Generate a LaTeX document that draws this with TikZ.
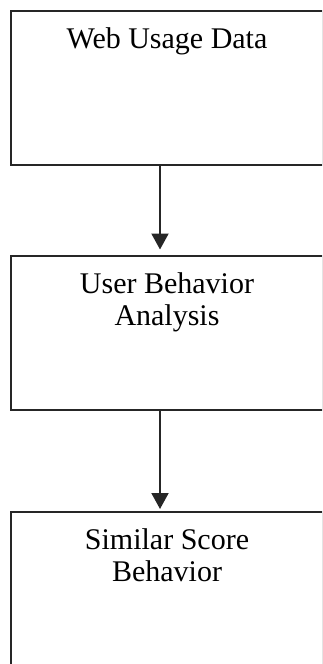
\documentclass[tikz,border=0pt]{standalone}
\usepackage{fontspec}
\setmainfont{Liberation Serif}
\usetikzlibrary{arrows.meta}
\begin{document}
\begin{tikzpicture}[x=1pt,y=-1pt,
  stage/.style={draw=black!85, line width=2pt, minimum width=312pt,
    minimum height=154pt, inner sep=0pt, outer sep=0pt},
  stagetext/.style={anchor=base, align=center, inner sep=0pt,
    font=\fontsize{30}{32}\selectfont},
  flow/.style={draw=black!85, line width=2pt,
    -{Triangle[width=17pt,length=16pt]}}]
\useasboundingbox (0,0) rectangle (322,664);
\clip (0,0) rectangle (322,664);

% three stages, stacked top to bottom
\node[stage] (s1) at (167,88) {};
\node[stage] (s2) at (167,332.5) {};
\node[stage] (s3) at (167,589) {};

% stage titles (base anchor sits on the last line)
\node[stagetext] (t1) at (167,48) {Web Usage Data};
\node[stagetext] (t2) at (167,325) {User Behavior\\Analysis};
\node[stagetext] (t3) at (167,581) {Similar Score\\Behavior};

% flow between stages
\draw[flow] ([xshift=-7pt]s1.south) -- ([xshift=-7pt,yshift=6pt]s2.north);
\draw[flow] ([xshift=-7pt]s2.south) -- ([xshift=-7pt,yshift=3pt]s3.north);
\end{tikzpicture}
\end{document}
